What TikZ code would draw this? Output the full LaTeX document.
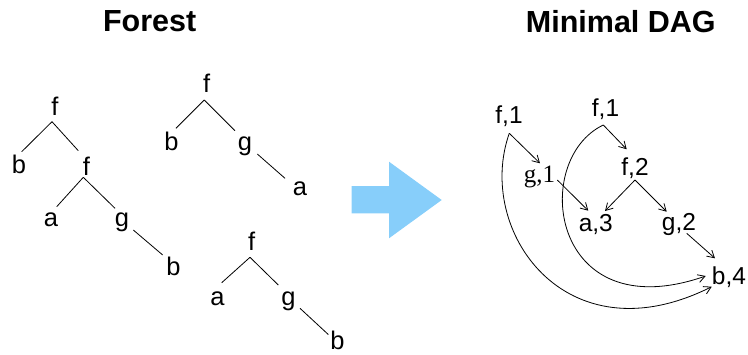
\documentclass[tikz,border=0pt]{standalone}
\usepackage{fontspec}
\setmainfont{Liberation Sans}
\newfontfamily\serifface{Liberation Serif}
\usetikzlibrary{arrows.meta}
\definecolor{arrowblue}{RGB}{135,206,250}
\begin{document}
\begin{tikzpicture}[x=1pt,y=-1pt,
  lbl/.style={anchor=base,inner sep=0pt,font=\fontsize{25.5}{29}\selectfont},
  dlbl/.style={anchor=base,inner sep=0pt,font=\fontsize{24.5}{28}\selectfont},
  slbl/.style={anchor=base,inner sep=0pt,font=\serifface\fontsize{25}{29}\selectfont},
  ttl/.style={anchor=base,inner sep=0pt,font=\fontsize{30.5}{34}\selectfont\bfseries},
  edge/.style={line width=0.8pt},
  link/.style={line width=0.8pt,-{Straight Barb[length=7pt,width=8pt]}}]
\useasboundingbox (0,0) rectangle (748,354);

% titles
\node[ttl] (t1) at (149.7,31.7) {Forest};
\node[ttl] (t2) at (620.8,32.3) {Minimal DAG};

% first tree
\node[lbl] (A1) at (55,115) {f};
\node[lbl] (A2) at (19,173) {b};
\node[lbl] (A3) at (86.5,175) {f};
\node[lbl] (A4) at (51,226) {a};
\node[lbl] (A5) at (122,226) {g};
\node[lbl] (A6) at (173.5,275) {b};
\draw[edge] ([shift={(-3,6.7)}]A1.base) -- ([shift={(2.7,-21.3)}]A2.base);
\draw[edge] ([shift={(-3,6.7)}]A1.base) -- ([shift={(-8.2,-24.3)}]A3.base);
\draw[edge] ([shift={(-3.2,2.3)}]A3.base) -- ([shift={(5.7,-19.3)}]A4.base);
\draw[edge] ([shift={(-3.2,2.3)}]A3.base) -- ([shift={(-7,-17.7)}]A5.base);
\draw[edge] ([shift={(11.3,4)}]A5.base) -- ([shift={(-10.8,-20)}]A6.base);

% second tree
\node[lbl] (B1) at (206.7,92) {f};
\node[lbl] (B2) at (171.5,150) {b};
\node[lbl] (B3) at (245,150) {g};
\node[lbl] (B4) at (300,195) {a};
\draw[edge] ([shift={(-2.4,8)}]B1.base) -- ([shift={(4.5,-21.7)}]B2.base);
\draw[edge] ([shift={(-2.4,8)}]B1.base) -- ([shift={(-10,-19.3)}]B3.base);
\draw[edge] ([shift={(12.3,4)}]B3.base) -- ([shift={(-15,-16.7)}]B4.base);

% third tree
\node[lbl] (C1) at (251.7,250) {f};
\node[lbl] (C2) at (217.5,305) {a};
\node[lbl] (C3) at (288.5,305) {g};
\node[lbl] (C4) at (337.5,349.5) {b};
\draw[edge] ([shift={(-1.7,7.3)}]C1.base) -- ([shift={(4.2,-22.3)}]C2.base);
\draw[edge] ([shift={(-1.7,7.3)}]C1.base) -- ([shift={(-10.2,-20)}]C3.base);
\draw[edge] ([shift={(11.5,3.3)}]C3.base) -- ([shift={(-9.2,-15)}]C4.base);

% block arrow between the two halves
\fill[arrowblue] (351.7,186) -- (389,186) -- (389,161.7) -- (441.7,200)
  -- (389,238.3) -- (389,213.3) -- (351.7,213.3) -- cycle;

% minimal DAG
\node[dlbl] (L1) at (509,123) {f,1};
\node[dlbl] (R1) at (605.5,116.7) {f,1};
\node[slbl] (G1) at (539.5,182) {g,1};
\node[dlbl] (F2) at (635,175) {f,2};
\node[dlbl] (A3n) at (595.8,231.5) {a,3};
\node[dlbl] (G2) at (679,230) {g,2};
\node[dlbl] (B4n) at (729,284.5) {b,4};

\draw[link] ([shift={(0.3,10.3)}]L1.base) -- ([shift={(0.5,-18.7)}]G1.base);
\draw[link] ([shift={(17.8,-2)}]G1.base) -- ([shift={(-7.5,-20.8)}]A3n.base);
\draw[link] ([shift={(-2.2,8.3)}]R1.base) -- ([shift={(-8.3,-25.7)}]F2.base);
\draw[link] ([shift={(0,5)}]F2.base) -- ([shift={(9.2,-20.5)}]A3n.base);
\draw[link] ([shift={(0,5)}]F2.base) -- ([shift={(-12.3,-18.3)}]G2.base);
\draw[link] ([shift={(7.7,3.3)}]G2.base) -- ([shift={(-14,-26.2)}]B4n.base);
\draw[link] ([shift={(-2.2,8.3)}]R1.base)
  .. controls (530,160) and (550,330) .. ([shift={(-23.3,-8.5)}]B4n.base);
\draw[link] ([shift={(0.3,10.3)}]L1.base)
  .. controls (475,230) and (565,360) .. ([shift={(-17.3,2.2)}]B4n.base);
\end{tikzpicture}
\end{document}
